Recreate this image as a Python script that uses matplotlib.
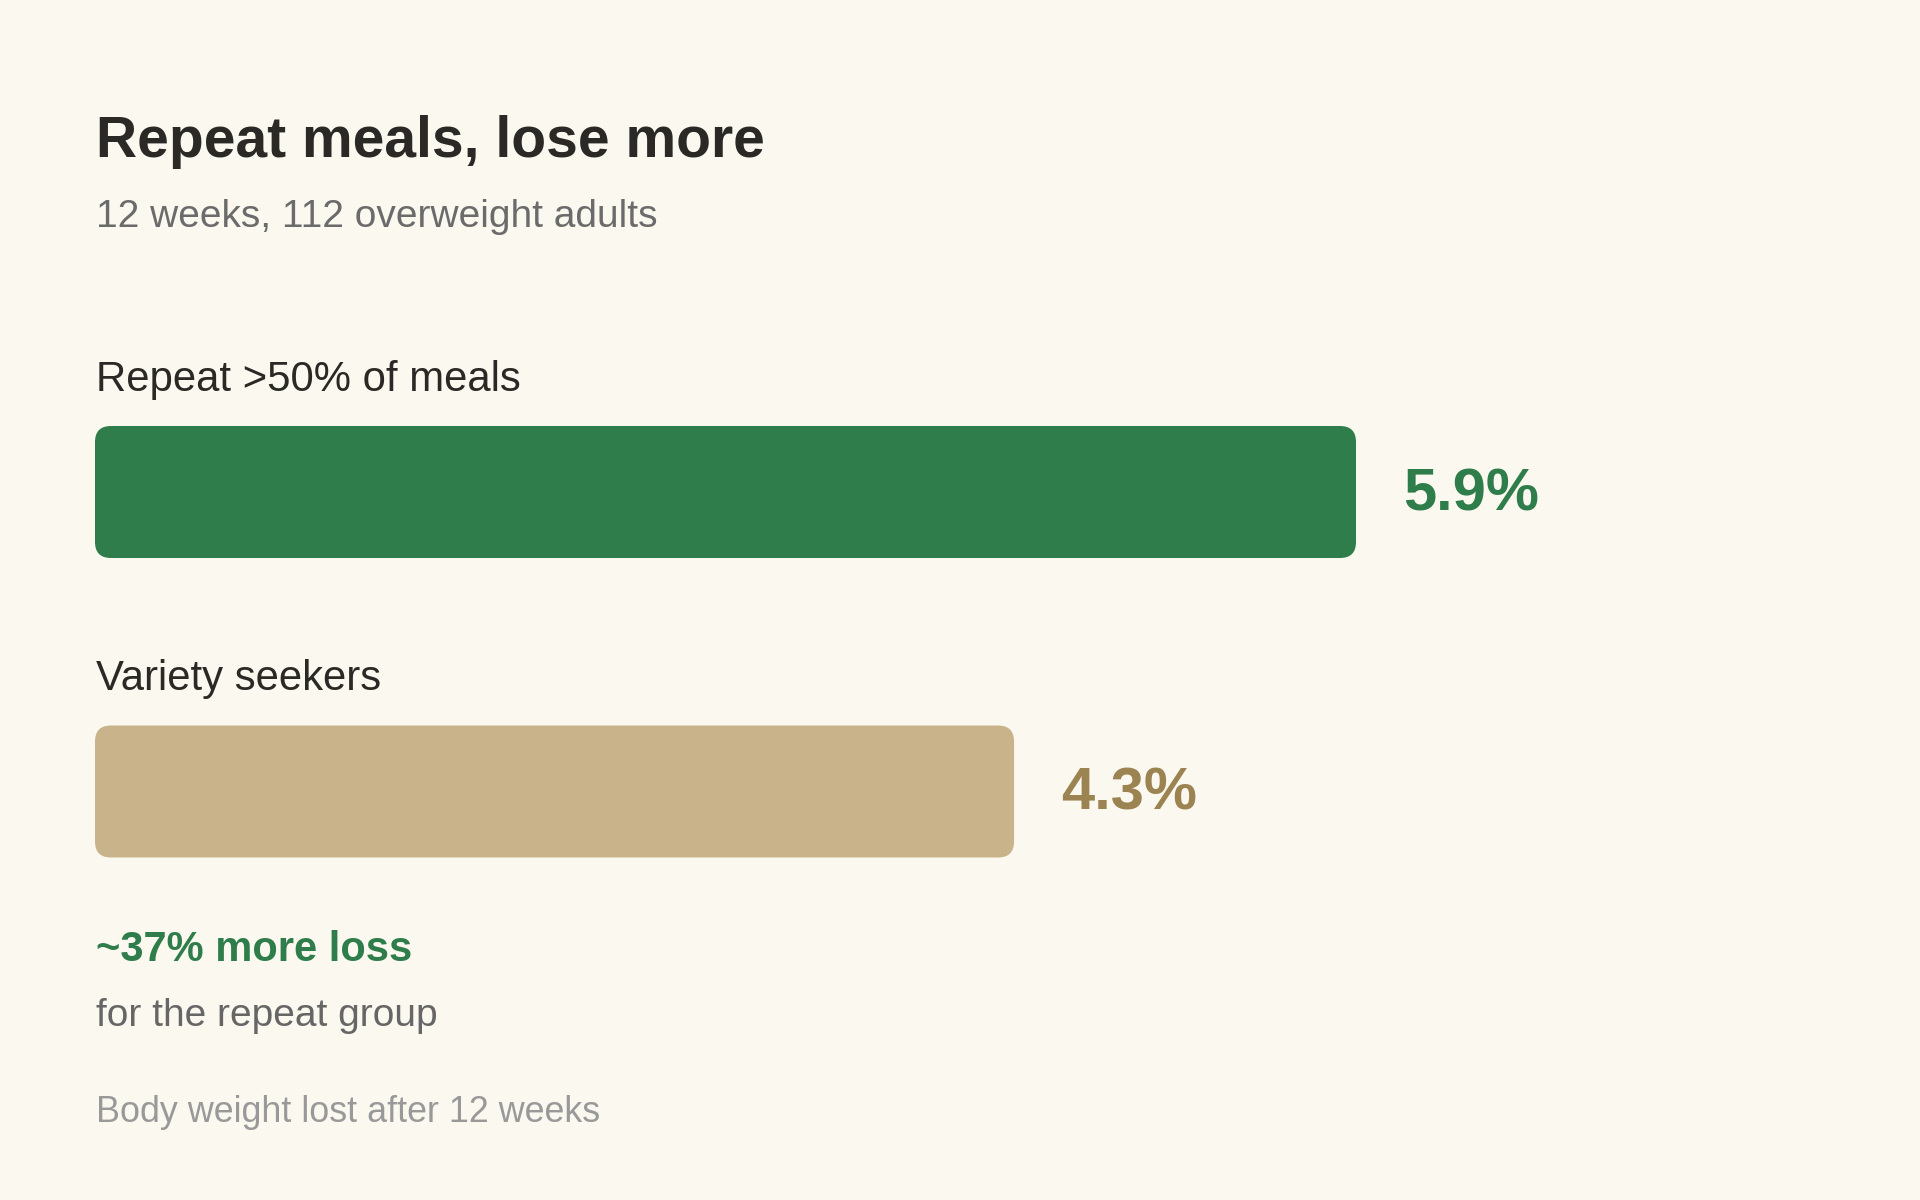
import matplotlib
matplotlib.use('Agg')
import matplotlib.pyplot as plt
from matplotlib.patches import FancyBboxPatch

# data
groups = ['Repeat >50% of meals', 'Variety seekers']
loss_pct = [5.9, 4.3]
bar_colors = ['#2E7D4A', '#C9B38A']
value_colors = ['#2E7D4A', '#9C8352']

title = 'Repeat meals, lose more'
subtitle = '12 weeks, 112 overweight adults'
callout = '~37% more loss'
callout_sub = 'for the repeat group'
footnote = 'Body weight lost after 12 weeks'

BG = '#FBF8F0'
W, H = 1920, 1200

plt.rcParams['font.family'] = ['Liberation Sans', 'DejaVu Sans']

fig = plt.figure(figsize=(19.2, 12), dpi=100)
fig.patch.set_facecolor(BG)


def px_text(x, y, s, **kw):
    # place text by pixel position (y from top, at baseline)
    fig.text(x / W, 1 - y / H, s, va='baseline', ha='left', **kw)


# bar axes: x 0..5.9 spans px 95..1356, rows centred at px 492 and 791.5
left_px, right_px = 95, 1356
top_px, bot_px = 400, 900
row_px = 299.5
ax = fig.add_axes([left_px / W, 1 - bot_px / H, (right_px - left_px) / W, (bot_px - top_px) / H])
ax.set_facecolor('none')
ax.set_xlim(0, max(loss_pct))
ax.set_ylim(1 + (bot_px - 791.5) / row_px, -(492 - top_px) / row_px)
ax.axis('off')

bar_h = 132 / row_px
bars = ax.barh(range(len(groups)), loss_pct, height=bar_h, color=bar_colors)

x_per_px = max(loss_pct) / (right_px - left_px)
y_per_px = 1 / row_px
radius = 16 * x_per_px
for b, c in zip(bars, bar_colors):
    b.set_visible(False)
    ax.add_patch(FancyBboxPatch((b.get_x(), b.get_y()), b.get_width(), b.get_height(),
                                boxstyle=f'round,pad=0,rounding_size={radius}',
                                mutation_aspect=y_per_px / x_per_px,
                                facecolor=c, edgecolor='none'))

for i, (v, c) in enumerate(zip(loss_pct, value_colors)):
    ax.annotate(f'{v}%', xy=(v, i), xytext=(34, -13), textcoords='offset points',
                ha='left', va='baseline', fontsize=43, fontweight='bold', color=c)

# texts
tx = 96
px_text(tx, 157, title, fontsize=41, fontweight='bold', color='#2A2925')
px_text(tx, 227, subtitle, fontsize=28, color='#6B6B6B')
px_text(tx, 391, groups[0], fontsize=30.2, color='#2A2925')
px_text(tx, 690, groups[1], fontsize=30.2, color='#2A2925')
px_text(tx, 961, callout, fontsize=30, fontweight='bold', color='#2E7D4A')
px_text(tx, 1026, callout_sub, fontsize=28, color='#666666')
px_text(tx, 1122, footnote, fontsize=25.8, color='#999999')

fig.savefig('out.png', dpi=100, facecolor=BG)
